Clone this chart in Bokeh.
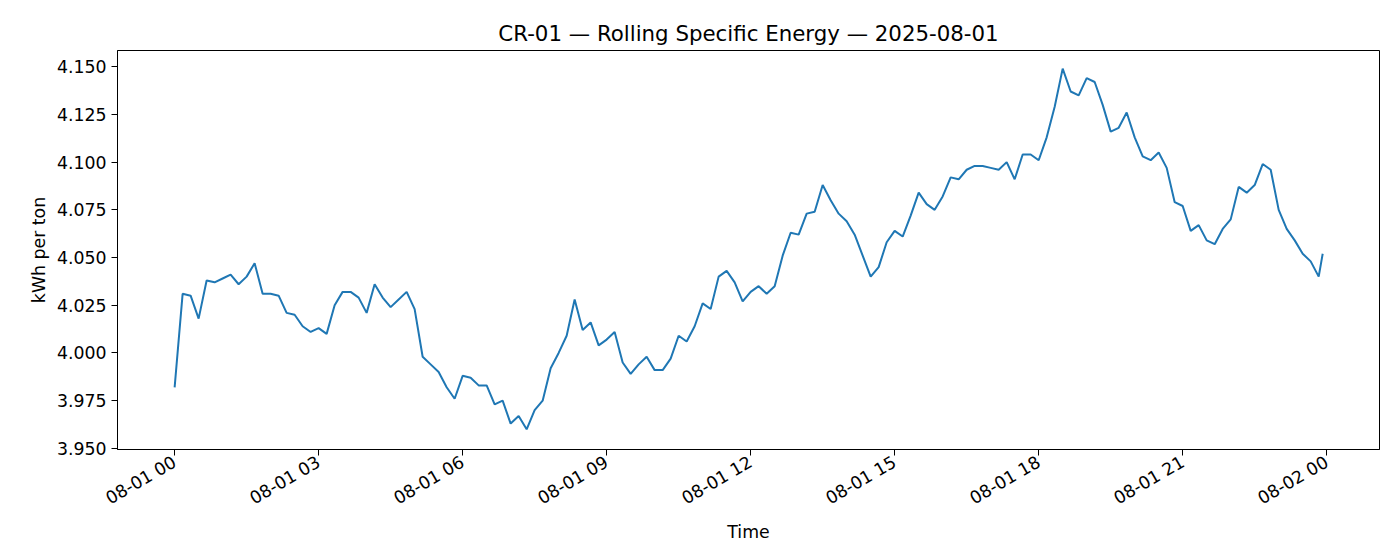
from datetime import datetime, timedelta
from bokeh.plotting import figure
from bokeh.models import FixedTicker, DatetimeTickFormatter, NumeralTickFormatter, Range1d
from bokeh.embed import file_html
from bokeh.resources import INLINE
import math

# data: rolling specific energy, 10-minute readings (last reading at 23:55)
values = [
    3.982, 4.031, 4.030, 4.018, 4.038, 4.037,
    4.039, 4.041, 4.036, 4.040, 4.047, 4.031,
    4.031, 4.030, 4.021, 4.020, 4.014, 4.011,
    4.013, 4.010, 4.025, 4.032, 4.032, 4.029,
    4.021, 4.036, 4.029, 4.024, 4.028, 4.032,
    4.023, 3.998, 3.994, 3.990, 3.982, 3.976,
    3.988, 3.987, 3.983, 3.983, 3.973, 3.975,
    3.963, 3.967, 3.960, 3.970, 3.975, 3.992,
    4.000, 4.009, 4.028, 4.012, 4.016, 4.004,
    4.007, 4.011, 3.995, 3.989, 3.994, 3.998,
    3.991, 3.991, 3.997, 4.009, 4.006, 4.014,
    4.026, 4.023, 4.040, 4.043, 4.037, 4.027,
    4.032, 4.035, 4.031, 4.035, 4.051, 4.063,
    4.062, 4.073, 4.074, 4.088, 4.080, 4.073,
    4.069, 4.062, 4.051, 4.040, 4.045, 4.058,
    4.064, 4.061, 4.072, 4.084, 4.078, 4.075,
    4.082, 4.092, 4.091, 4.096, 4.098, 4.098,
    4.097, 4.096, 4.100, 4.091, 4.104, 4.104,
    4.101, 4.113, 4.129, 4.149, 4.137, 4.135,
    4.144, 4.142, 4.130, 4.116, 4.118, 4.126,
    4.113, 4.103, 4.101, 4.105, 4.097, 4.079,
    4.077, 4.064, 4.067, 4.059, 4.057, 4.065,
    4.070, 4.087, 4.084, 4.088, 4.099, 4.096,
    4.075, 4.065, 4.059, 4.052, 4.048, 4.040,
    4.052,
]
start = datetime(2025, 8, 1)
times = [start + timedelta(minutes=10 * i) for i in range(len(values) - 1)]
times.append(start + timedelta(hours=23, minutes=55))

tick_hours = [0, 3, 6, 9, 12, 15, 18, 21, 24]
y_ticks = [3.950, 3.975, 4.000, 4.025, 4.050, 4.075, 4.100, 4.125, 4.150]

def ms(dt):
    return (dt - datetime(1970, 1, 1)).total_seconds() * 1000

p = figure(width=1384, height=544, x_axis_type="datetime",
           output_backend="svg", toolbar_location=None,
           title="CR-01 — Rolling Specific Energy — 2025-08-01",
           min_border_left=117, min_border_right=5, min_border_top=50, min_border_bottom=10)
p.x_range = Range1d(ms(start - timedelta(hours=1.19)), ms(start + timedelta(hours=25.1)))
p.y_range = Range1d(3.9494, 4.1585)

p.line(times, values, line_color="#1f77b4", line_width=2)

p.title.align = "center"
p.title.text_font = "DejaVu Sans"
p.title.text_font_size = "16pt"
p.title.text_font_style = "normal"
p.title.text_color = "black"

p.xaxis.ticker = FixedTicker(ticks=[ms(start + timedelta(hours=h)) for h in tick_hours])
p.xaxis.formatter = DatetimeTickFormatter(hours="%m-%d %H", days="%m-%d %H", minutes="%m-%d %H")
p.xaxis.major_label_orientation = math.radians(30)
p.yaxis.ticker = FixedTicker(ticks=y_ticks)
p.yaxis.formatter = NumeralTickFormatter(format="0.000")
p.xaxis.axis_label = "Time"
p.yaxis.axis_label = "kWh per ton"
for ax in (p.xaxis, p.yaxis):
    ax.axis_label_text_font = "DejaVu Sans"
    ax.axis_label_text_font_style = "normal"
    ax.axis_label_text_font_size = "13pt"
    ax.axis_label_text_color = "black"
    ax.major_label_text_font = "DejaVu Sans"
    ax.major_label_text_font_size = "13pt"
    ax.major_label_text_color = "black"
    ax.minor_tick_line_color = None
    ax.major_tick_in = 0
    ax.major_tick_out = 6
    ax.axis_line_color = "black"
p.xaxis.axis_label_standoff = 2
p.grid.visible = False
p.outline_line_color = "black"

open("out.html", "w").write(file_html(p, INLINE))
